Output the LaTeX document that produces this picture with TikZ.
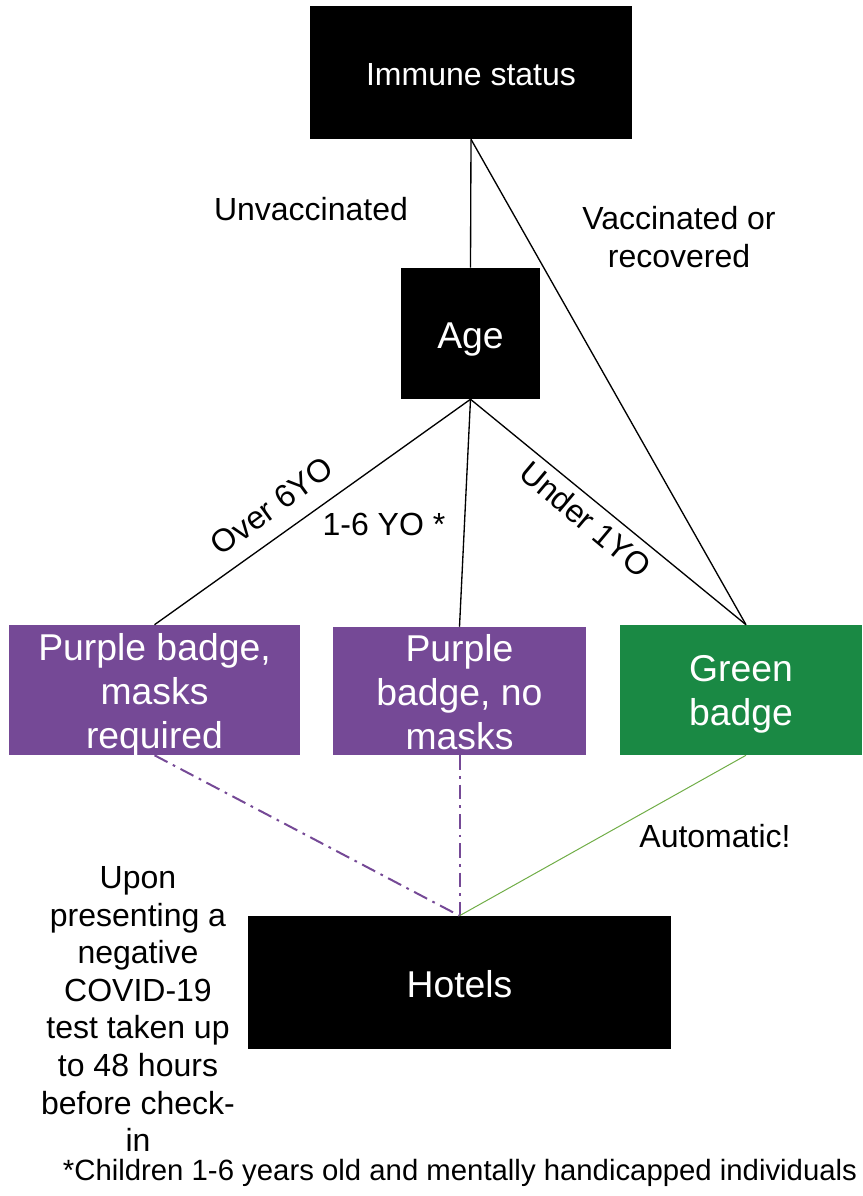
\documentclass[tikz,border=0pt]{standalone}
\usepackage{fontspec}
\setmainfont{Liberation Sans}
\definecolor{badgepurple}{RGB}{117,73,150}
\definecolor{badgegreen}{RGB}{26,137,68}
\definecolor{linegreen}{RGB}{112,173,71}
\begin{document}
\begin{tikzpicture}[x=0.75pt,y=-0.75pt,
  blackbox/.style={fill=black,inner sep=0pt},
  purplebox/.style={fill=badgepurple,inner sep=0pt},
  greenbox/.style={fill=badgegreen,inner sep=0pt},
  boxtext/.style={text=white,inner sep=0pt,align=center},
  bigtext/.style={font=\fontsize{28}{33}\selectfont},
  midtext/.style={font=\fontsize{24}{28.2}\selectfont},
  lbl/.style={midtext,inner sep=0pt,align=center},
  tree/.style={draw=black,line width=1pt},
  dashlink/.style={draw=badgepurple,line width=1.5pt,dash pattern=on 11pt off 4.5pt on 2pt off 4.5pt},
  greenlink/.style={draw=linegreen,line width=0.75pt}]
\useasboundingbox (0,0) rectangle (863,1196);

\node[blackbox,minimum width=241.5pt,minimum height=99.75pt] (immune) at (471,72.5) {};
\node[blackbox,minimum width=104.25pt,minimum height=98.25pt] (age) at (470.5,333.5) {};
\node[purplebox,minimum width=218.25pt,minimum height=97.5pt] (p1) at (154.5,690) {};
\node[purplebox,minimum width=189.75pt,minimum height=96pt] (p2) at (459.5,691) {};
\node[greenbox,minimum width=181.5pt,minimum height=97.5pt] (green) at (741,690) {};
\node[blackbox,minimum width=317.25pt,minimum height=99.75pt] (hotels) at (459.5,982.5) {};

\node[boxtext,midtext] (immunet) at ([yshift=-1.5pt]immune.center) {Immune status};
\node[boxtext,bigtext] (aget) at ([yshift=-4.5pt]age.center) {Age};
\node[boxtext,bigtext] (p1t) at ([yshift=-3.75pt]p1.center) {Purple badge,\\masks\\required};
\node[boxtext,bigtext] (p2t) at ([yshift=-0.75pt]p2.center) {Purple\\badge, no\\masks};
\node[boxtext,bigtext] (greent) at ([yshift=-3pt]green.center) {Green\\badge};
\node[boxtext,bigtext] (hotelst) at ([yshift=-1.5pt]hotels.center) {Hotels};

\coordinate (gtop) at ([xshift=3.75pt]green.north);
\coordinate (gbot) at ([xshift=3.75pt]green.south);

\draw[tree] (immune.south) -- (age.north);
\draw[tree] (immune.south) -- (gtop);
\draw[tree] (age.south) -- (p1.north);
\draw[tree] (age.south) -- (p2.north);
\draw[tree] (age.south) -- (gtop);

\draw[dashlink] (p1.south) -- (hotels.north);
\draw[dashlink] (p2.south) -- (hotels.north);
\draw[greenlink] (gbot) -- (hotels.north);

\node[lbl] (unvac) at (311,209) {Unvaccinated};
\node[lbl] (vacc) at (679,237) {Vaccinated or\\recovered};
\node[lbl,rotate=36] (over6) at (272,506) {Over 6YO};
\node[lbl] (one6) at (384,524) {1-6 YO *};
\node[lbl,rotate=-40] (under1) at (586,519) {Under 1YO};
\node[lbl] (auto) at (715,836) {Automatic!};
\node[lbl] (upon) at (138,1009) {Upon\\presenting a\\negative\\COVID-19\\test taken up\\to 48 hours\\before check-\\in};
\node[inner sep=0pt,font=\fontsize{22}{26}\selectfont] (foot) at (460,1173) {*Children 1-6 years old and mentally handicapped individuals};
\end{tikzpicture}
\end{document}
